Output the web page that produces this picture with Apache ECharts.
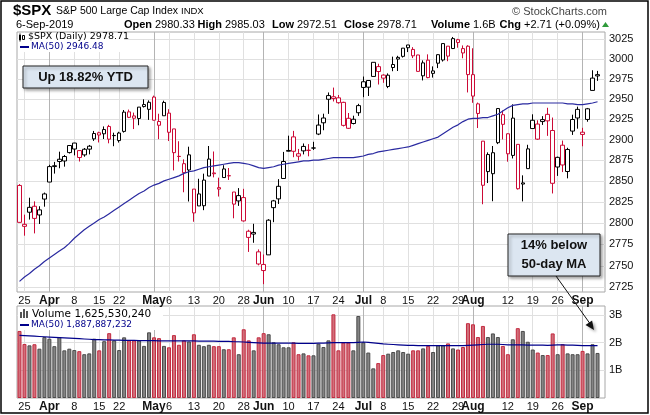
<!DOCTYPE html>
<html>
<head>
<meta charset="utf-8">
<script src="https://cdn.jsdelivr.net/npm/echarts@6/dist/echarts.min.js"></script>
<style>
  html, body { margin: 0; padding: 0; background: #fff; }
  #chart { width: 650px; height: 415px; }
</style>
</head>
<body>
<div id="chart"></div>
<script>
// trading days shown, 22-Mar-2019 .. 6-Sep-2019
const days = [
  '3/22','3/25','3/26','3/27','3/28','3/29',
  '4/1','4/2','4/3','4/4','4/5','4/8','4/9','4/10','4/11','4/12','4/15','4/16','4/17','4/18','4/22','4/23','4/24','4/25','4/26','4/29','4/30',
  '5/1','5/2','5/3','5/6','5/7','5/8','5/9','5/10','5/13','5/14','5/15','5/16','5/17','5/20','5/21','5/22','5/23','5/24','5/28','5/29','5/30','5/31',
  '6/3','6/4','6/5','6/6','6/7','6/10','6/11','6/12','6/13','6/14','6/17','6/18','6/19','6/20','6/21','6/24','6/25','6/26','6/27','6/28',
  '7/1','7/2','7/3','7/5','7/8','7/9','7/10','7/11','7/12','7/15','7/16','7/17','7/18','7/19','7/22','7/23','7/24','7/25','7/26','7/29','7/30','7/31',
  '8/1','8/2','8/5','8/6','8/7','8/8','8/9','8/12','8/13','8/14','8/15','8/16','8/19','8/20','8/21','8/22','8/23','8/26','8/27','8/28','8/29','8/30',
  '9/3','9/4','9/5','9/6'
];

const open = [
  2844.52,2796.01,2812.66,2819.72,2809.40,2828.27,2848.63,2868.24,2876.09,2873.99,
  2884.16,2888.46,2886.58,2881.37,2891.92,2900.86,2908.32,2912.26,2916.04,2904.81,
  2898.78,2909.99,2934.00,2928.99,2925.81,2940.58,2937.14,2952.33,2922.16,2929.21,
  2908.89,2913.03,2879.61,2859.84,2863.10,2840.19,2820.12,2820.38,2855.80,2858.60,
  2841.94,2854.02,2856.06,2836.70,2832.41,2830.03,2790.25,2786.94,2766.15,2751.53,
  2762.64,2818.09,2828.51,2852.87,2885.83,2903.27,2882.73,2886.24,2886.82,2889.75,
  2906.71,2920.55,2949.60,2952.71,2951.42,2945.78,2926.07,2919.66,2932.94,2971.41,
  2964.66,2978.08,2984.25,2979.77,2965.52,2989.30,3002.05,3003.36,3017.80,3012.13,
  3005.10,2978.87,2998.56,2981.93,2994.74,2998.77,3016.26,3013.25,3024.47,3007.66,
  3016.22,2980.32,2943.90,2898.07,2861.18,2858.65,2896.21,2930.51,2907.07,2880.72,
  2894.15,2846.20,2864.74,2913.48,2919.01,2922.04,2930.94,2911.07,2866.70,2893.14,
  2861.28,2910.37,2937.09,2909.01,2924.67,2960.60,2980.33
];
const high = [
  2846.16,2809.79,2829.87,2825.56,2819.71,2836.03,2869.40,2872.90,2885.25,2881.28,
  2893.24,2895.95,2886.88,2889.71,2893.42,2910.54,2909.60,2916.06,2918.00,2908.40,
  2909.51,2936.31,2936.83,2933.10,2939.88,2949.52,2948.22,2954.13,2931.68,2947.85,
  2937.32,2913.03,2897.96,2875.97,2891.31,2840.19,2852.54,2858.68,2892.15,2885.48,
  2853.86,2868.88,2865.47,2836.70,2841.36,2840.51,2792.03,2799.00,2768.98,2763.07,
  2804.49,2827.28,2852.10,2884.97,2904.77,2910.61,2888.57,2895.24,2894.45,2897.27,
  2930.79,2931.74,2958.06,2964.15,2954.92,2946.52,2932.59,2929.30,2943.98,2977.93,
  2973.21,2995.84,2994.03,2980.76,2981.90,3002.98,3004.04,3013.92,3017.80,3015.02,
  3005.26,2998.28,3005.90,2990.71,3005.90,3019.59,3016.31,3027.98,3025.61,3017.19,
  3017.40,3013.59,2945.50,2898.07,2884.40,2892.17,2938.72,2935.75,2907.58,2943.31,
  2894.15,2856.67,2893.63,2931.00,2923.63,2928.73,2939.08,2927.01,2879.27,2898.79,
  2890.03,2930.50,2940.43,2914.39,2938.84,2985.86,2985.03
];
const low = [
  2800.47,2785.02,2803.99,2787.72,2798.77,2819.23,2848.63,2858.75,2865.17,2867.14,
  2882.99,2880.78,2873.33,2879.13,2881.99,2898.37,2896.48,2900.71,2895.45,2891.90,
  2896.35,2908.53,2926.31,2912.84,2917.56,2939.35,2924.11,2923.36,2900.50,2929.21,
  2898.21,2862.60,2873.28,2836.40,2825.39,2801.43,2820.12,2815.08,2855.80,2854.23,
  2831.29,2854.02,2851.11,2805.49,2820.19,2801.58,2766.06,2776.74,2750.52,2728.81,
  2762.64,2800.92,2822.45,2852.87,2885.51,2878.53,2874.68,2881.99,2879.62,2887.30,
  2905.44,2911.43,2931.50,2946.87,2944.05,2916.01,2912.99,2918.57,2929.05,2952.22,
  2953.70,2977.96,2967.97,2970.09,2963.44,2984.62,2984.89,3001.87,3008.77,3001.15,
  2984.25,2973.09,2975.86,2976.65,2988.56,2996.82,2997.24,3012.59,3014.30,3000.94,
  2958.08,2945.23,2914.11,2822.12,2847.42,2825.71,2894.47,2900.15,2873.14,2877.05,
  2839.64,2825.51,2864.74,2913.48,2899.60,2917.91,2904.51,2834.97,2856.00,2860.59,
  2853.05,2905.67,2913.32,2891.85,2921.86,2960.60,2972.51
];
const close = [
  2800.71,2798.36,2818.46,2805.37,2815.44,2834.40,2867.19,2867.24,2873.40,2879.39,
  2892.74,2895.77,2878.20,2888.21,2888.32,2907.41,2905.58,2907.06,2900.45,2905.03,
  2907.97,2933.68,2927.25,2926.17,2939.88,2943.03,2945.83,2923.73,2917.52,2945.64,
  2932.47,2884.05,2879.42,2870.72,2881.40,2811.87,2834.41,2850.96,2876.32,2859.53,
  2840.23,2864.36,2856.27,2822.24,2826.06,2802.39,2783.02,2788.86,2752.06,2744.45,
  2803.27,2826.15,2843.49,2873.34,2886.73,2885.72,2879.84,2891.64,2886.98,2889.67,
  2917.75,2926.46,2954.18,2950.46,2945.35,2917.38,2913.78,2924.92,2941.76,2964.33,
  2973.01,2995.82,2990.41,2975.95,2979.63,2993.07,2999.91,3013.77,3014.30,3004.04,
  2984.42,2995.11,2976.61,2985.03,3005.47,3019.56,3003.67,3025.86,3020.97,3013.18,
  2980.38,2953.56,2932.05,2844.74,2881.77,2883.98,2938.09,2918.65,2882.70,2926.32,
  2840.60,2847.60,2888.68,2923.65,2900.51,2924.43,2922.95,2847.11,2878.38,2869.16,
  2887.94,2924.58,2926.46,2906.27,2937.78,2976.00,2978.71
];
const prevClose = 2854.88; // 21-Mar close, for the colour of the first day

// 50-day moving average of the close
const maPrice = [
  2732,2737,2741,2746,2750,2755,2759,2763,2767,2771,
  2776,2782,2787,2792,2796,2800,2804,2807,2811,2815,
  2819,2823,2827,2831,2835,2838,2842,2845,2847,2850,
  2852,2854,2856,2859,2861,2862,2864,2866,2867,2868,
  2869,2870,2871,2872,2872,2871,2870,2868,2866,2865,
  2866,2867,2869,2870,2871,2872,2873,2874,2874,2875,
  2875,2876,2877,2878,2878,2878,2878,2878,2879,2880,
  2882,2883,2885,2886,2887,2888,2889,2890,2891,2893,
  2895,2897,2899,2901,2903,2907,2911,2915,2918,2922,
  2925,2926,2926,2927,2927,2929,2931,2935,2939,2942,
  2943,2944,2944,2945,2945,2945,2945,2945,2945,2945,
  2944,2944,2943,2943,2944,2945,2946.48
];

// volume in billions of shares
const volume = [
  2.42,1.95,1.90,1.94,1.78,2.20,2.14,1.87,2.20,1.72,
  1.78,1.73,1.69,1.58,1.61,2.14,1.72,2.05,2.34,2.08,
  1.73,2.19,2.08,2.08,2.08,1.88,2.37,2.19,2.16,1.88,
  1.83,2.27,1.92,2.08,2.04,2.30,1.92,1.87,1.92,1.87,
  1.87,1.76,1.76,2.19,1.58,2.48,2.08,1.72,2.19,2.34,
  2.30,2.01,1.94,1.83,1.83,2.01,1.58,1.61,1.54,1.54,
  1.96,1.84,2.08,3.02,1.72,2.00,2.00,1.72,2.96,2.01,
  1.64,1.07,1.26,1.55,1.60,1.66,1.72,1.66,1.60,1.72,
  1.72,1.79,1.88,1.66,1.90,1.90,1.97,1.79,1.75,1.84,
  2.70,2.66,2.20,2.60,2.20,2.33,2.20,1.88,1.58,2.12,
  2.52,2.42,2.03,1.75,1.64,1.55,1.55,2.33,1.58,1.94,
  1.61,1.58,1.58,1.70,1.61,1.94,1.626
];
const maVolume = [
  2.26,2.25,2.24,2.23,2.22,2.21,2.20,2.19,2.18,2.17,
  2.16,2.15,2.14,2.13,2.12,2.11,2.11,2.10,2.10,2.09,
  2.09,2.08,2.08,2.08,2.07,2.07,2.07,2.07,2.06,2.06,
  2.06,2.06,2.06,2.06,2.06,2.06,2.05,2.05,2.05,2.05,
  2.04,2.04,2.04,2.03,2.03,2.02,2.01,2.00,1.99,1.98,
  1.98,1.98,1.98,1.98,1.98,1.98,1.97,1.97,1.97,1.97,
  1.98,1.98,1.99,2.00,2.00,2.00,2.00,2.00,2.01,2.02,
  2.01,1.99,1.97,1.95,1.94,1.93,1.92,1.91,1.90,1.90,
  1.89,1.89,1.89,1.89,1.89,1.89,1.89,1.89,1.89,1.89,
  1.90,1.91,1.92,1.93,1.94,1.94,1.94,1.93,1.92,1.92,
  1.92,1.92,1.91,1.91,1.91,1.91,1.90,1.91,1.92,1.92,
  1.91,1.91,1.90,1.89,1.89,1.89,1.888
];

// axis ticks
const tickDays = ['3/25','4/1','4/8','4/15','4/22','5/1','5/6','5/13','5/20','5/28','6/3','6/10','6/17','6/24',
                  '7/1','7/8','7/15','7/22','7/29','8/1','8/12','8/19','8/26','9/3'];
const tickText = ['25','Apr','8','15','22','May','6','13','20','28','Jun','10','17','24',
                  'Jul','8','15','22','29','Aug','12','19','26','Sep'];
const monthDays = ['4/1','5/1','6/3','7/1','8/1','9/3'];
const priceTicks = [2725,2750,2775,2800,2825,2850,2875,2900,2925,2950,2975,3000,3025];
const volumeTicks = [1,2,3];

const RED = '#cc0a36';
const FONT = 'Liberation Sans';

const tickIdx = tickDays.map(d => days.indexOf(d));
const monthIdx = monthDays.map(d => days.indexOf(d));
const isDown = (i) => close[i] < (i === 0 ? prevClose : close[i - 1]);
const cats = days.concat(['']);

const candleData = days.map((d, i) => ({
  value: [open[i], close[i], low[i], high[i]],
  itemStyle: isDown(i)
    ? {color: '#fff', color0: RED, borderColor: RED, borderColor0: RED}
    : {color: '#fff', color0: '#000', borderColor: '#000', borderColor0: '#000'}
}));
const volumeData = volume.map((v, i) => ({
  value: v,
  itemStyle: isDown(i)
    ? {color: '#d0707b', borderColor: '#c3293f'}
    : {color: '#848484', borderColor: '#4b4b4b'}
}));

const weekLines = tickIdx.map(i => ({
  xAxis: days[i],
  lineStyle: {color: monthIdx.includes(i) ? '#b4b4b4' : '#e0e0e0', width: 1, type: 'solid'}
}));

function xAxisFor(gridIndex) {
  return {
    type: 'category', gridIndex: gridIndex, data: cats, boundaryGap: true,
    axisLine: {show: false}, axisTick: {show: false}, splitLine: {show: false},
    axisLabel: {
      interval: (i) => tickIdx.includes(i),
      formatter: (v, i) => {
        const k = tickIdx.indexOf(i);
        if (k < 0) return '';
        return monthIdx.includes(i) ? '{b|' + tickText[k] + '}' : tickText[k];
      },
      margin: 3, fontSize: 11, fontFamily: FONT, color: '#111',
      rich: {b: {fontWeight: 'bold', fontSize: 12, fontFamily: FONT, color: '#111'}}
    }
  };
}

function txt(x, y, text, font, fill, align) {
  return {type: 'text', x: x, y: y, z: 100,
    style: {text: text, font: font, fill: fill || '#000', textAlign: align || 'left', textVerticalAlign: 'middle'}};
}

const chart = echarts.init(document.getElementById('chart'), null, {renderer: 'canvas'});
chart.setOption({
  animation: false,
  backgroundColor: '#fff',
  grid: [
    {left: 17, right: 45, top: 32, height: 260, show: true, borderColor: '#a8a8a8', borderWidth: 1, backgroundColor: '#fff'},
    {left: 17, right: 45, top: 306, height: 92, show: true, borderColor: '#a8a8a8', borderWidth: 1, backgroundColor: '#fff'}
  ],
  xAxis: [xAxisFor(0), xAxisFor(1)],
  yAxis: [
    {
      type: 'log', gridIndex: 0, position: 'right', min: 2719.8, max: 3034.3,
      axisLine: {show: false},
      axisTick: {show: false, customValues: priceTicks},
      axisLabel: {customValues: priceTicks, formatter: v => String(Math.round(v)),
        margin: 4, fontSize: 11, fontFamily: FONT, color: '#111'},
      splitLine: {show: true, lineStyle: {color: '#e0e0e0', width: 1}}
    },
    {
      type: 'value', gridIndex: 1, position: 'right', min: 0, max: 3.32,
      axisLine: {show: false},
      axisTick: {show: false, customValues: volumeTicks},
      axisLabel: {customValues: volumeTicks, formatter: v => v + 'B',
        margin: 4, fontSize: 11, fontFamily: FONT, color: '#111'},
      splitLine: {show: true, lineStyle: {color: '#e0e0e0', width: 1}}
    }
  ],
  series: [
    {
      type: 'line', xAxisIndex: 0, yAxisIndex: 0, data: [], silent: true,
      markLine: {silent: true, symbol: ['none', 'none'], z: 1, animation: false,
        label: {show: false}, data: weekLines}
    },
    {
      type: 'line', xAxisIndex: 1, yAxisIndex: 1, data: [], silent: true,
      markLine: {silent: true, symbol: ['none', 'none'], z: 1, animation: false,
        label: {show: false}, data: weekLines}
    },
    {
      name: '$SPX', type: 'candlestick', xAxisIndex: 0, yAxisIndex: 0,
      barWidth: 4, z: 3, data: candleData
    },
    {
      name: 'MA(50)', type: 'line', xAxisIndex: 0, yAxisIndex: 0, data: maPrice,
      symbol: 'none', z: 4, lineStyle: {color: '#2a2aa0', width: 1.2}
    },
    {
      name: 'Volume', type: 'bar', xAxisIndex: 1, yAxisIndex: 1, data: volumeData,
      barWidth: 4, z: 3, itemStyle: {borderWidth: 1}
    },
    {
      name: 'Vol MA(50)', type: 'line', xAxisIndex: 1, yAxisIndex: 1, data: maVolume,
      symbol: 'none', z: 4, lineStyle: {color: '#00008b', width: 1.2}
    }
  ],
  graphic: {elements: [
    // outer frame
    {type: 'rect', z: 100, shape: {x: 1, y: 1, width: 647, height: 412}, style: {fill: 'none', stroke: '#000', lineWidth: 1.5}},
    // header
    txt(13, 11, '$SPX', 'bold 15px ' + FONT),
    txt(56, 11, 'S&P 500 Large Cap Index', '10.5px ' + FONT),
    txt(181, 11, 'INDX', '9.5px ' + FONT),
    txt(607, 12, '\u00a9 StockCharts.com', '11px ' + FONT, '#444', 'right'),
    txt(16, 25, '6-Sep-2019', '11px ' + FONT),
    txt(152, 25, 'Open', 'bold 11px ' + FONT, '#000', 'right'),
    txt(155, 25, '2980.33', '11px ' + FONT),
    txt(222, 25, 'High', 'bold 11px ' + FONT, '#000', 'right'),
    txt(225, 25, '2985.03', '11px ' + FONT),
    txt(294, 25, 'Low', 'bold 11px ' + FONT, '#000', 'right'),
    txt(297, 25, '2972.51', '11px ' + FONT),
    txt(374, 25, 'Close', 'bold 11px ' + FONT, '#000', 'right'),
    txt(377, 25, '2978.71', '11px ' + FONT),
    txt(470, 25, 'Volume', 'bold 11px ' + FONT, '#000', 'right'),
    txt(473, 25, '1.6B', '11px ' + FONT),
    txt(521, 25, 'Chg', 'bold 11px ' + FONT, '#000', 'right'),
    txt(524, 25, '+2.71 (+0.09%)', '11px ' + FONT),
    {type: 'polygon', z: 100, shape: {points: [[602, 27], [609, 27], [605.5, 22]]}, style: {fill: '#2f9a3a'}},
    // price legend
    {type: 'rect', z: 90, shape: {x: 18, y: 33, width: 106, height: 19}, style: {fill: '#fff'}},
    {type: 'rect', z: 100, shape: {x: 19, y: 35, width: 2, height: 5}, style: {fill: '#000'}},
    {type: 'line', z: 100, shape: {x1: 20, y1: 33.5, x2: 20, y2: 41.5}, style: {stroke: '#000', lineWidth: 1}},
    {type: 'rect', z: 100, shape: {x: 22.5, y: 35.5, width: 2, height: 4}, style: {fill: '#fff', stroke: '#000', lineWidth: 1}},
    txt(28, 37, '$SPX (Daily) 2978.71', '9.5px DejaVu Sans'),
    {type: 'line', z: 100, shape: {x1: 20, y1: 47, x2: 29, y2: 47}, style: {stroke: '#00008b', lineWidth: 2}},
    txt(31, 47, 'MA(50) 2946.48', '9px DejaVu Sans', '#00008b'),
    // volume legend
    {type: 'rect', z: 90, shape: {x: 18, y: 307, width: 145, height: 23}, style: {fill: '#fff'}},
    {type: 'rect', z: 100, shape: {x: 20, y: 312, width: 2, height: 6}, style: {fill: '#555'}},
    {type: 'rect', z: 100, shape: {x: 23, y: 309, width: 2, height: 9}, style: {fill: '#555'}},
    {type: 'rect', z: 100, shape: {x: 26, y: 311, width: 2, height: 7}, style: {fill: '#555'}},
    txt(32, 314, 'Volume 1,625,530,240', '10.5px DejaVu Sans'),
    {type: 'line', z: 100, shape: {x1: 20, y1: 325, x2: 29, y2: 325}, style: {stroke: '#00008b', lineWidth: 2}},
    txt(31, 325, 'MA(50) 1,887,887,232', '9px DejaVu Sans', '#00008b'),
    // annotations
    {type: 'rect', z: 100, shape: {x: 23, y: 66, width: 125, height: 22},
      style: {fill: '#dce6f1', stroke: '#222', lineWidth: 1, shadowBlur: 3, shadowOffsetX: 2, shadowOffsetY: 2, shadowColor: 'rgba(0,0,0,0.35)'}},
    txt(85.5, 77.5, 'Up 18.82% YTD', 'bold 13px ' + FONT, '#111', 'center'),
    {type: 'rect', z: 100, shape: {x: 508, y: 234, width: 92, height: 42},
      style: {fill: '#dce6f1', stroke: '#222', lineWidth: 1, shadowBlur: 3, shadowOffsetX: 2, shadowOffsetY: 2, shadowColor: 'rgba(0,0,0,0.35)'}},
    txt(554, 245.5, '14% below', 'bold 13px ' + FONT, '#111', 'center'),
    txt(554, 264, '50-day MA', 'bold 13px ' + FONT, '#111', 'center'),
    {type: 'line', z: 100, shape: {x1: 556, y1: 276, x2: 591, y2: 325}, style: {stroke: '#111', lineWidth: 1}},
    {type: 'polygon', z: 100, shape: {points: [[594, 330], [592.1, 320.4], [585.5, 325.0]]},
      style: {fill: '#111', shadowBlur: 3, shadowOffsetX: 2, shadowOffsetY: 2, shadowColor: 'rgba(0,0,0,0.35)'}}
  ]}
});
</script>
</body>
</html>
